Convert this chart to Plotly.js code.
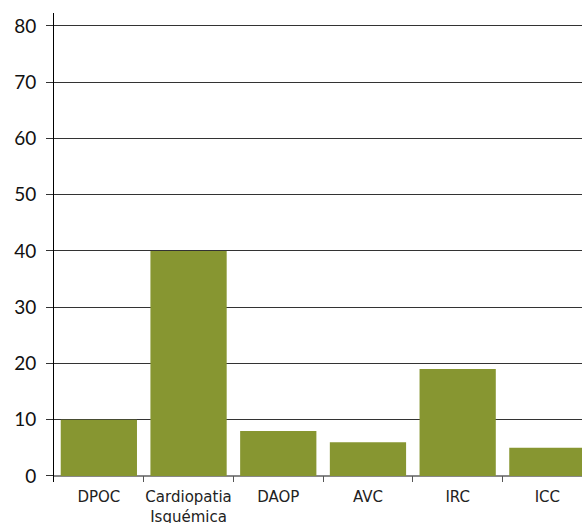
<!DOCTYPE html>
<html>
<head>
<meta charset="utf-8">
<script src="https://cdn.plot.ly/plotly-3.0.1.min.js"></script>
<style>
  html, body { margin: 0; padding: 0; background: #fff; }
  #chart { width: 582px; height: 523px; }
</style>
</head>
<body>
<div id="chart"></div>
<script>
// Doenças associadas (%)
const categories = ["DPOC", "Cardiopatia<br>Isquémica", "DAOP", "AVC", "IRC", "ICC"];
const values = [10, 40, 8, 6, 19, 5];
const yTicks = [0, 10, 20, 30, 40, 50, 60, 70, 80];

const trace = {
  type: "bar",
  x: categories,
  y: values,
  marker: { color: "#879631" },
  hoverinfo: "x+y"
};

const layout = {
  width: 582,
  height: 523,
  margin: { l: 54, r: 0, t: 13, b: 41 },
  paper_bgcolor: "#ffffff",
  plot_bgcolor: "#ffffff",
  showlegend: false,
  bargap: 0.15,
  xaxis: {
    type: "category",
    range: [-0.5, 5.386],
    showgrid: false,
    showline: false,
    zeroline: false,
    tickson: "boundaries",
    ticks: "inside",
    ticklen: 6,
    tickwidth: 1,
    tickcolor: "#555",
    tickangle: 0,
    ticklabelstandoff: 4,
    tickfont: { family: "DejaVu Sans, sans-serif", size: 15, color: "#222" }
  },
  yaxis: {
    range: [-1.07, 82.3],
    tickvals: yTicks,
    ticktext: yTicks.map(String),
    showgrid: true,
    gridcolor: "#333",
    gridwidth: 1,
    zeroline: true,
    zerolinecolor: "#888",
    zerolinewidth: 1.5,
    showline: true,
    linecolor: "#000",
    linewidth: 1,
    ticks: "outside",
    ticklen: 7,
    tickcolor: "#333",
    ticklabelstandoff: 6,
    tickfont: { family: "Lato, sans-serif", size: 19, color: "#111" },
    fixedrange: true
  }
};

Plotly.newPlot("chart", [trace], layout, { displayModeBar: false, staticPlot: true });
</script>
</body>
</html>
